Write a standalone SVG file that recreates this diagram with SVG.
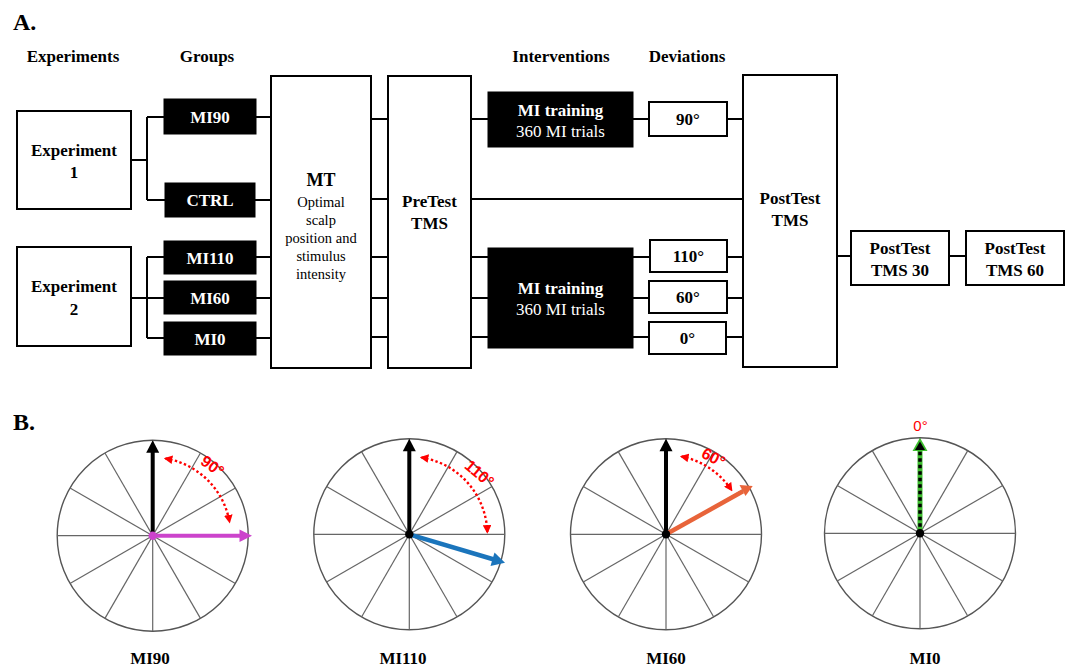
<svg xmlns="http://www.w3.org/2000/svg" width="1070" height="667" viewBox="0 0 1070 667">
<defs>
<style>
.t{font-family:"Liberation Serif","Times New Roman",serif;font-weight:bold;font-size:17px;fill:#000;text-anchor:middle}
.w{fill:#fff}
.r{font-weight:normal}
.sm{font-family:"Liberation Serif","Times New Roman",serif;font-size:14.5px;fill:#000;text-anchor:middle}
.box{fill:#fff;stroke:#000;stroke-width:2}
.blk{fill:#000;stroke:#000;stroke-width:1}
.ln{fill:none;stroke:#000;stroke-width:2}
.circ{fill:#fff;stroke:#555;stroke-width:1.4}
.sp{stroke:#666;stroke-width:1.2}
.arc{fill:none;stroke:#f00;stroke-width:2.4;stroke-dasharray:2.4 2.4;marker-start:url(#ra);marker-end:url(#ra)}
.ang{font-family:"Liberation Sans",Arial,sans-serif;font-weight:bold;font-size:16px;fill:#f00;text-anchor:middle}
</style>
<marker id="ra" viewBox="0 0 10 10" refX="8" refY="5" markerWidth="3.6" markerHeight="3.6" orient="auto-start-reverse" markerUnits="strokeWidth">
<path d="M0,0 L10,5 L0,10 z" fill="#f00"/>
</marker>
<g id="wheel">
<circle cx="0" cy="0" r="95.5" class="circ"/>
<line x1="0" y1="-95.5" x2="0" y2="95.5" class="sp"/>
<line x1="-95.5" y1="0" x2="95.5" y2="0" class="sp"/>
<line x1="-47.75" y1="-82.7" x2="47.75" y2="82.7" class="sp"/>
<line x1="47.75" y1="-82.7" x2="-47.75" y2="82.7" class="sp"/>
<line x1="-82.7" y1="-47.75" x2="82.7" y2="47.75" class="sp"/>
<line x1="82.7" y1="-47.75" x2="-82.7" y2="47.75" class="sp"/>
</g>
<g id="up">
<line x1="0" y1="0" x2="0" y2="-85" stroke="#000" stroke-width="4"/>
<polygon points="0,-95.5 -6.5,-83 6.5,-83" fill="#000"/>
</g>
</defs>
<rect width="1070" height="667" fill="#fff"/>

<text x="13" y="30" class="t" style="text-anchor:start;font-size:24px">A.</text>
<text x="73" y="62" class="t">Experiments</text>
<text x="207" y="62" class="t">Groups</text>
<text x="561" y="62" class="t">Interventions</text>
<text x="687" y="62" class="t">Deviations</text>

<g id="connectors">
<path class="ln" d="M131,160 H147 M147,117 V200 M147,117 H164 M147,200 H165"/>
<path class="ln" d="M131,298 H147 M147,257 V338 M147,257 H164 M147,298 H164 M147,338 H164"/>
<path class="ln" d="M256,117 H271 M255,200 H271 M256,257 H271 M256,298 H271 M256,338 H271"/>
<path class="ln" d="M371,119 H388 M371,199 H388 M371,257 H388 M371,298 H388 M371,337 H388"/>
<path class="ln" d="M471,119 H488 M471,257 H488 M471,298 H488 M471,337 H488"/>
<path class="ln" d="M471,199 H743"/>
<path class="ln" d="M633,119 H649 M633,257 H649 M633,298 H649 M633,337 H649"/>
<path class="ln" d="M727,119 H743 M727,257 H743 M727,298 H743 M727,337 H743"/>
<path class="ln" d="M837,256 H851 M949,256 H966"/>
</g>

<g id="exp1"><rect x="17" y="111" width="114" height="98" class="box"/>
<text x="74" y="156" class="t">Experiment</text><text x="74" y="178" class="t">1</text></g>
<g id="exp2"><rect x="17" y="247" width="114" height="99" class="box"/>
<text x="74" y="292" class="t">Experiment</text><text x="74" y="315" class="t">2</text></g>

<g id="g-mi90"><rect x="164" y="99" width="92" height="35" class="blk"/><text x="210" y="123" class="t w">MI90</text></g>
<g id="g-ctrl"><rect x="165" y="183" width="90" height="34" class="blk"/><text x="210" y="206" class="t w">CTRL</text></g>
<g id="g-mi110"><rect x="164" y="241" width="92" height="33" class="blk"/><text x="210" y="264" class="t w">MI110</text></g>
<g id="g-mi60"><rect x="164" y="281" width="92" height="33" class="blk"/><text x="210" y="304" class="t w">MI60</text></g>
<g id="g-mi0"><rect x="164" y="322" width="92" height="33" class="blk"/><text x="210" y="345" class="t w">MI0</text></g>

<g id="mt"><rect x="271" y="76" width="100" height="292" class="box"/>
<text x="321" y="186" class="t" style="font-size:18px">MT</text>
<text x="321" y="207" class="sm">Optimal</text>
<text x="321" y="225" class="sm">scalp</text>
<text x="321" y="243" class="sm">position and</text>
<text x="321" y="261" class="sm">stimulus</text>
<text x="321" y="279" class="sm">intensity</text></g>

<g id="pretest"><rect x="388" y="76" width="83" height="292" class="box"/>
<text x="429.5" y="207" class="t">PreTest</text><text x="429.5" y="229" class="t">TMS</text></g>

<g id="train1"><rect x="488" y="92" width="145" height="55" class="blk"/>
<text x="560.5" y="116" class="t w">MI training</text><text x="560.5" y="137" class="t w r">360 MI trials</text></g>
<g id="train2"><rect x="488" y="248" width="145" height="100" class="blk"/>
<text x="560.5" y="294" class="t w">MI training</text><text x="560.5" y="315" class="t w r">360 MI trials</text></g>

<g id="d90"><rect x="649" y="102" width="78" height="34" class="box"/><text x="688" y="125" class="t">90°</text></g>
<g id="d110"><rect x="650" y="240" width="77" height="32" class="box"/><text x="688.5" y="262" class="t">110°</text></g>
<g id="d60"><rect x="649" y="281" width="78" height="32" class="box"/><text x="688" y="303" class="t">60°</text></g>
<g id="d0"><rect x="649" y="322" width="77" height="32" class="box"/><text x="687.5" y="344" class="t">0°</text></g>

<g id="posttest"><rect x="743" y="75" width="94" height="292" class="box"/>
<text x="790" y="204" class="t">PostTest</text><text x="790" y="226" class="t">TMS</text></g>
<g id="post30"><rect x="851" y="231" width="98" height="54" class="box"/>
<text x="900" y="254" class="t">PostTest</text><text x="900" y="276" class="t">TMS 30</text></g>
<g id="post60"><rect x="966" y="231" width="98" height="54" class="box"/>
<text x="1015" y="254" class="t">PostTest</text><text x="1015" y="276" class="t">TMS 60</text></g>

<text x="13" y="430" class="t" style="text-anchor:start;font-size:24px">B.</text>

<g id="b-mi90">
<use href="#wheel" x="152.7" y="535.7"/>
<use href="#up" x="152.7" y="535.7"/>
<line x1="152.7" y1="535.7" x2="241" y2="535.7" stroke="#CC44CC" stroke-width="4"/>
<polygon points="252,535.7 239.5,529.5 239.5,541.9" fill="#CC44CC"/>
<circle cx="152.7" cy="535.7" r="4.2" fill="#CC44CC"/>
<path class="arc" d="M165.5,458.5 A78,78 0 0 1 229.5,521.8"/>
<text class="ang" y="5.5" transform="translate(212.5,466) rotate(35)">90°</text>
<text x="150" y="664" class="t">MI90</text>
</g>

<g id="b-mi110">
<use href="#wheel" x="409.3" y="534.3"/>
<use href="#up" x="409.3" y="534.3"/>
<line x1="409.3" y1="534.3" x2="494" y2="559.5" stroke="#1B75BC" stroke-width="4.5"/>
<polygon points="505,562.7 490.5,566 494.5,552.5" fill="#1B75BC"/>
<circle cx="409.3" cy="534.3" r="4.2" fill="#000"/>
<path class="arc" d="M421.5,457.5 A78,78 0 0 1 487.3,532"/>
<text class="ang" y="5.5" transform="translate(479.5,473.5) rotate(40)">110°</text>
<text x="403" y="664" class="t">MI110</text>
</g>

<g id="b-mi60">
<use href="#wheel" x="666" y="534.3"/>
<use href="#up" x="666" y="534.3"/>
<line x1="666" y1="534.3" x2="743" y2="491.3" stroke="#E8643A" stroke-width="4.5"/>
<polygon points="752.7,486 739.5,485 745.5,496" fill="#E8643A"/>
<circle cx="666" cy="534.3" r="4.2" fill="#000"/>
<path class="arc" d="M681.6,456.5 A79,79 0 0 1 731.5,490.1"/>
<text class="ang" y="5.5" transform="translate(713.5,457.5) rotate(28)">60°</text>
<text x="666" y="664" class="t">MI60</text>
</g>

<g id="b-mi0">
<use href="#wheel" x="920" y="533.3"/>
<line x1="920" y1="533.3" x2="920" y2="449" stroke="#3DBE2E" stroke-width="5"/>
<line x1="920" y1="533.3" x2="920" y2="450" stroke="#000" stroke-width="3.5" stroke-dasharray="3.5 3"/>
<polygon points="920,437.8 912.5,451 927.5,451" fill="#3DBE2E"/>
<polygon points="920,441.5 915,450 925,450" fill="#000"/>
<circle cx="920" cy="533.3" r="4.2" fill="#000"/>
<text x="920.5" y="431" style="font-family:'Liberation Sans',Arial,sans-serif;font-size:15px;fill:#f00;text-anchor:middle">0°</text>
<text x="925" y="664" class="t">MI0</text>
</g>
</svg>
